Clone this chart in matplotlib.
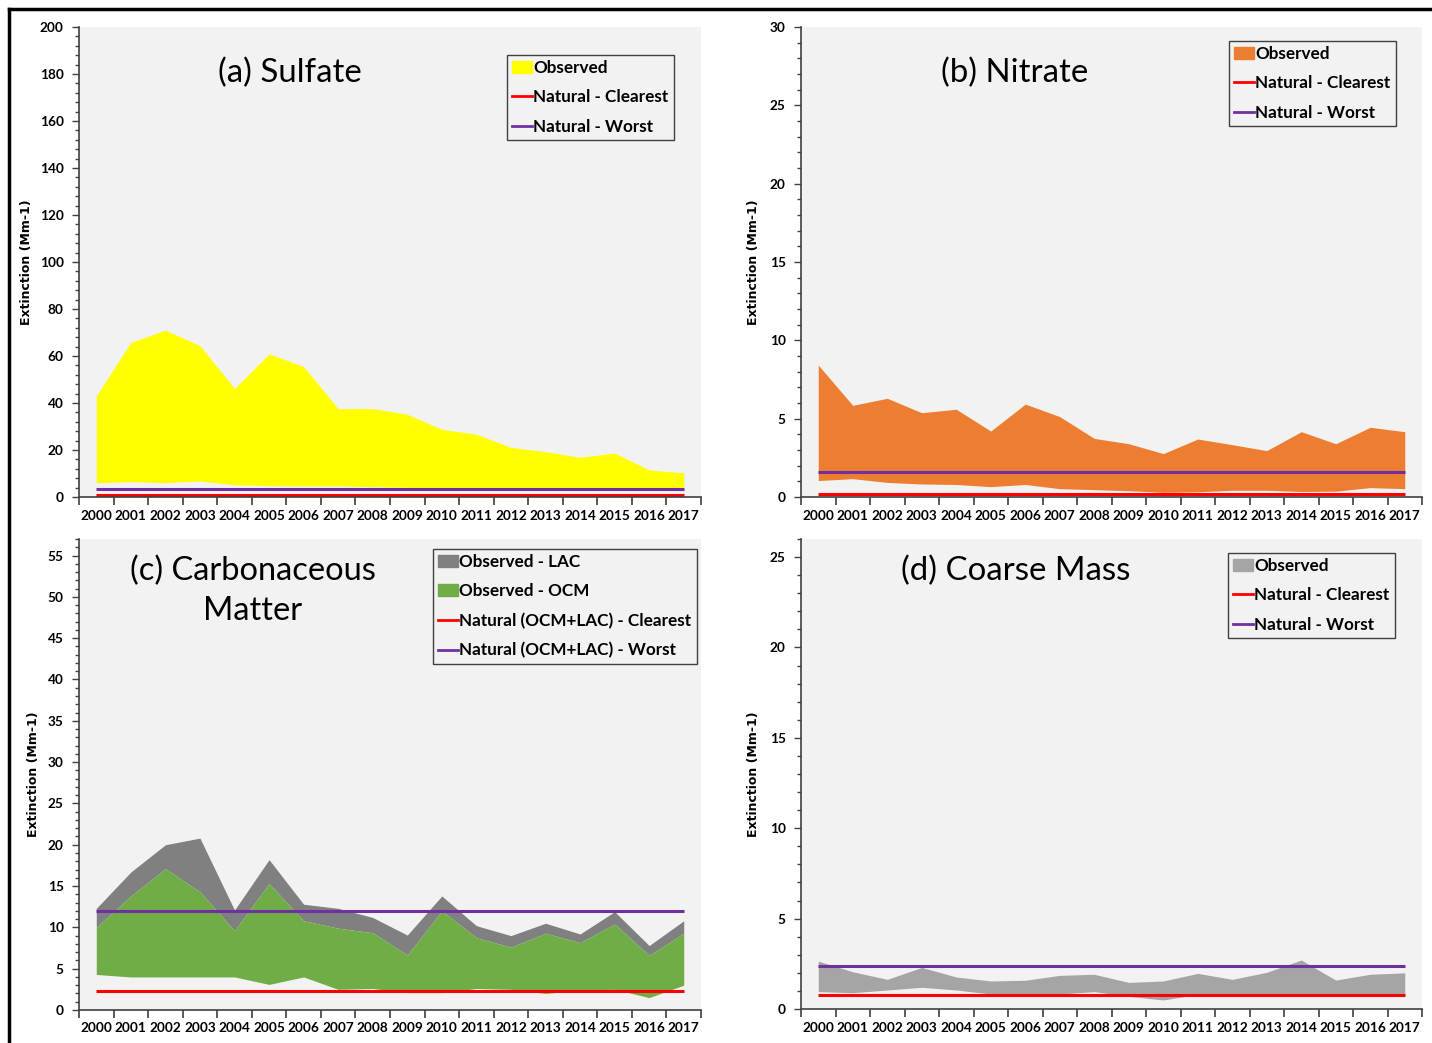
import numpy as np
import matplotlib
matplotlib.use('Agg')
import matplotlib.pyplot as plt
from matplotlib.lines import Line2D
from matplotlib.patches import Patch
from matplotlib.ticker import MultipleLocator, FixedLocator

# Data
years = [str(y) for y in range(2000, 2018)]

sulfate_low = [6.1, 6.5, 6.1, 6.8, 5.2, 4.8, 4.7, 4.7, 4.4, 4.1, 3.3, 3.6, 3.8, 3.8, 3.8, 3.3, 3.3, 3.3]
sulfate_high = [43.0, 65.8, 71.0, 64.4, 46.2, 60.9, 55.5, 37.6, 37.6, 35.2, 28.8, 26.7, 21.1, 19.3, 16.9, 18.7, 11.5, 10.3]
sulfate_clear = 0.8
sulfate_worst = 3.6

nitrate_low = [1.05, 1.17, 0.93, 0.83, 0.8, 0.66, 0.8, 0.53, 0.47, 0.4, 0.3, 0.33, 0.43, 0.43, 0.35, 0.37, 0.6, 0.53]
nitrate_high = [8.42, 5.85, 6.3, 5.38, 5.6, 4.21, 5.93, 5.13, 3.74, 3.4, 2.77, 3.7, 3.34, 2.96, 4.17, 3.4, 4.45, 4.17]
nitrate_clear = 0.22
nitrate_worst = 1.6

ocm_low = [4.3, 4.0, 4.0, 4.0, 4.0, 3.1, 4.0, 2.5, 2.6, 2.1, 2.1, 2.6, 2.5, 2.0, 2.4, 2.5, 1.5, 3.0]
ocm_high = [10.0, 13.8, 17.1, 14.3, 9.6, 15.3, 10.8, 9.9, 9.35, 6.65, 12.0, 8.75, 7.6, 9.3, 8.15, 10.4, 6.6, 9.3]
lac_high = [12.3, 16.7, 20.0, 20.8, 12.1, 18.2, 12.8, 12.3, 11.2, 9.07, 13.8, 10.2, 9.0, 10.5, 9.2, 11.9, 7.8, 10.8]
carb_clear = 2.3
carb_worst = 12.0

coarse_low = [0.96, 0.9, 1.05, 1.2, 1.05, 0.83, 0.83, 0.83, 0.96, 0.7, 0.5, 0.8, 0.8, 0.7, 0.8, 0.8, 0.8, 0.8]
coarse_high = [2.65, 2.06, 1.64, 2.3, 1.77, 1.55, 1.59, 1.86, 1.92, 1.47, 1.55, 1.97, 1.64, 2.03, 2.71, 1.6, 1.92, 2.0]
coarse_clear = 0.78
coarse_worst = 2.36

W, H = 1432, 1043
BG = '#f2f2f2'
RED = '#ff0000'
PURPLE = '#7030a0'
TXT = 'Lato'

fig = plt.figure(figsize=(W / 100, H / 100), dpi=100)


def px_axes(l, t, r, b):
    return fig.add_axes([l / W, 1 - b / H, (r - l) / W, (b - t) / H])


def style(ax, ymax, major, minor, label_x):
    x = np.arange(len(years))
    ax.set_facecolor(BG)
    ax.set_xlim(-0.5, len(years) - 0.5)
    ax.set_ylim(0, ymax)
    for s in ['top', 'right']:
        ax.spines[s].set_visible(False)
    for s in ['left', 'bottom']:
        ax.spines[s].set_color('#404040')
        ax.spines[s].set_linewidth(1.2)
    ax.yaxis.set_major_locator(MultipleLocator(major))
    ax.yaxis.set_minor_locator(MultipleLocator(minor))
    ax.xaxis.set_major_locator(FixedLocator(x))
    ax.xaxis.set_minor_locator(FixedLocator(np.arange(-0.5, len(years), 1.0)))
    ax.set_xticklabels(years, fontfamily=TXT, fontweight='bold', fontsize=9.8)
    ax.tick_params(axis='x', which='major', length=0, pad=9)
    ax.tick_params(axis='x', which='minor', length=6, width=1.2, color='#404040')
    ax.tick_params(axis='y', which='major', length=5, width=1.0, color='#404040', pad=6)
    ax.tick_params(axis='y', which='minor', length=3, width=1.0, color='#404040')
    for lab in ax.get_yticklabels():
        lab.set_fontfamily(TXT)
        lab.set_fontweight('bold')
        lab.set_fontsize(9.8)
    ax.set_ylabel('Extinction (Mm-1)', fontfamily='DejaVu Sans', fontweight='bold', fontsize=9)
    ax.yaxis.set_label_coords(label_x, 0.5)
    return x


def hlines(ax, x, clear, worst):
    ax.plot([x[0], x[-1]], [clear, clear], color=RED, lw=2.2, solid_capstyle='butt')
    ax.plot([x[0], x[-1]], [worst, worst], color=PURPLE, lw=2.2, solid_capstyle='butt')


def legend(ax, handles, labels, left, top):
    leg = ax.legend(handles, labels, loc='upper left', bbox_to_anchor=(left / W, 1 - top / H),
                    bbox_transform=fig.transFigure, prop={'family': TXT, 'weight': 'bold', 'size': 12.3},
                    frameon=True, fancybox=False, facecolor=BG, edgecolor='#404040',
                    handlelength=1.15, handletextpad=0.1, labelspacing=0.78, borderpad=0.3,
                    borderaxespad=0, framealpha=1)
    leg.get_frame().set_linewidth(1.0)


def nat_handles():
    return [Line2D([], [], color=RED, lw=2), Line2D([], [], color=PURPLE, lw=2)]


# (a) Sulfate
ax = px_axes(79, 27, 701, 497)
x = style(ax, 200, 20, 4, (33 - 79) / 622)
ax.fill_between(x, sulfate_low, sulfate_high, color='#ffff00', lw=0)
hlines(ax, x, sulfate_clear, sulfate_worst)
ax.text(290 / W, 1 - 73 / H, '(a) Sulfate', transform=fig.transFigure, ha='center', va='center',
        fontfamily=TXT, fontsize=23.8)
legend(ax, [Patch(color='#ffff00')] + nat_handles(),
       ['Observed', 'Natural - Clearest', 'Natural - Worst'], 507, 55)

# (b) Nitrate
ax = px_axes(801, 27, 1422, 497)
x = style(ax, 30, 5, 1, (760 - 801) / 621)
ax.fill_between(x, nitrate_low, nitrate_high, color='#ed7d31', lw=0)
hlines(ax, x, nitrate_clear, nitrate_worst)
ax.text(1015 / W, 1 - 73 / H, '(b) Nitrate', transform=fig.transFigure, ha='center', va='center',
        fontfamily=TXT, fontsize=23.8)
legend(ax, [Patch(color='#ed7d31')] + nat_handles(),
       ['Observed', 'Natural - Clearest', 'Natural - Worst'], 1229, 41)

# (c) Carbonaceous Matter
ax = px_axes(79, 539, 701, 1010)
x = style(ax, 57, 5, 1, (40 - 79) / 622)
ax.fill_between(x, ocm_high, lac_high, color='#808080', lw=0)
ax.fill_between(x, ocm_low, ocm_high, color='#70ad47', lw=0)
hlines(ax, x, carb_clear, carb_worst)
ax.text(253 / W, 1 - 591 / H, '(c) Carbonaceous\nMatter', transform=fig.transFigure, ha='center',
        va='center', fontfamily=TXT, fontsize=23.5, linespacing=1.4)
legend(ax, [Patch(color='#808080'), Patch(color='#70ad47')] + nat_handles(),
       ['Observed - LAC', 'Observed - OCM', 'Natural (OCM+LAC) - Clearest', 'Natural (OCM+LAC) - Worst'],
       433, 549)

# (d) Coarse Mass
ax = px_axes(801, 539, 1422, 1009)
x = style(ax, 26, 5, 1, (760 - 801) / 621)
ax.fill_between(x, coarse_low, coarse_high, color='#a5a5a5', lw=0)
hlines(ax, x, coarse_clear, coarse_worst)
ax.text(1016 / W, 1 - 571 / H, '(d) Coarse Mass', transform=fig.transFigure, ha='center', va='center',
        fontfamily=TXT, fontsize=23.8)
legend(ax, [Patch(color='#a5a5a5')] + nat_handles(),
       ['Observed', 'Natural - Clearest', 'Natural - Worst'], 1228, 553)

# outer frame (top and left edges)
fig.add_artist(Line2D([9 / W, 1], [1 - 9 / H, 1 - 9 / H], color='black', lw=2.5, transform=fig.transFigure))
fig.add_artist(Line2D([9 / W, 9 / W], [0, 1 - 9 / H], color='black', lw=2.5, transform=fig.transFigure))

fig.savefig('out.png', dpi=100)
